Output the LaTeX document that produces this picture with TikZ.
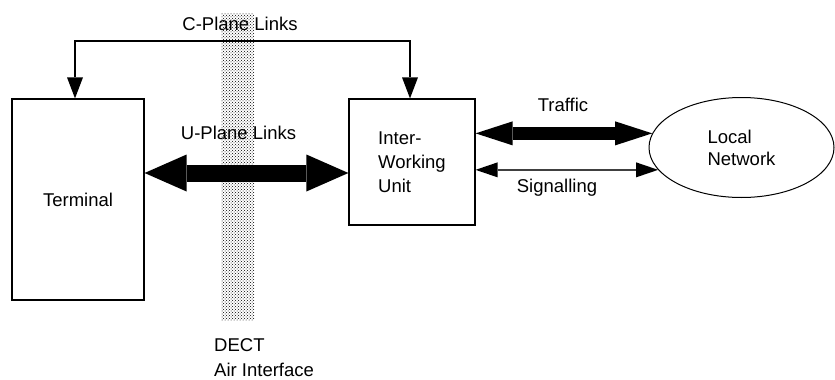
\documentclass[tikz,border=0pt]{standalone}
\usepackage{fontspec}
\setmainfont{Liberation Sans}
\usetikzlibrary{arrows.meta,shapes.geometric,patterns}

\tikzset{
  txt/.style={font=\fontsize{18.5}{24}\selectfont, inner sep=0pt},
  box/.style={draw, line width=1.2pt, inner sep=0pt, txt, align=left},
  thin link/.style={line width=1.2pt,
    {Triangle[length=21pt,width=16pt,line width=0pt]}-{Triangle[length=21pt,width=16pt,line width=0pt]}},
  fat link/.style={line width=17pt,
    {Triangle[length=42pt,width=37pt,line width=0pt]}-{Triangle[length=42pt,width=37pt,line width=0pt]}},
  mid link/.style={line width=13pt,
    {Triangle[length=37pt,width=24pt,line width=0pt]}-{Triangle[length=37pt,width=24pt,line width=0pt]}},
  sig link/.style={line width=1.5pt, draw=black!75,
    {Triangle[length=22pt,width=15pt,line width=0pt,fill=black]}-{Triangle[length=22pt,width=15pt,line width=0pt,fill=black]}},
}

\begin{document}
\begin{tikzpicture}[x=1pt,y=-1pt]
  \useasboundingbox (0,0) rectangle (835,380);

  % air interface band
  \fill[pattern=crosshatch dots, pattern color=black] (221,13) rectangle (254,320);

  % blocks
  \node[box, minimum width=132pt, minimum height=201pt] (term) at (78,199.5) {Terminal};
  \node[box, minimum width=126pt, minimum height=126pt] (iwu) at (412,162) {Inter-\\Working\\Unit};
  \node[draw, ellipse, line width=1pt, inner sep=0pt, minimum width=185pt, minimum height=100pt,
        txt, align=left] (ln) at (741.5,147.5) {Local\\[-2pt]Network};

  % C-plane links
  \coordinate (cpl) at (240,41);
  \draw[thin link] ([xshift=-3pt]term.north) |- (cpl) -| ([xshift=-2pt]iwu.north);
  \node[txt] (cptxt) at (240,24) {C-Plane Links};

  % U-plane links
  \coordinate (uy) at (0,173);
  \draw[fat link] (term.east |- uy) -- (iwu.west |- uy);
  \node[txt] (uptxt) at (238.5,133) {U-Plane Links};

  % traffic and signalling
  \draw[mid link] (iwu.east |- ln.171) -- (ln.171);
  \node[txt] (trtxt) at (563,105) {Traffic};
  \draw[sig link] (iwu.east |- ln.195) -- (ln.195);
  \node[txt] (sgtxt) at (557,188) {Signalling};

  % air interface label
  \node[txt, align=left, anchor=west, font=\fontsize{18.5}{25}\selectfont] (dect) at (214,358) {DECT\\Air Interface};
\end{tikzpicture}
\end{document}
